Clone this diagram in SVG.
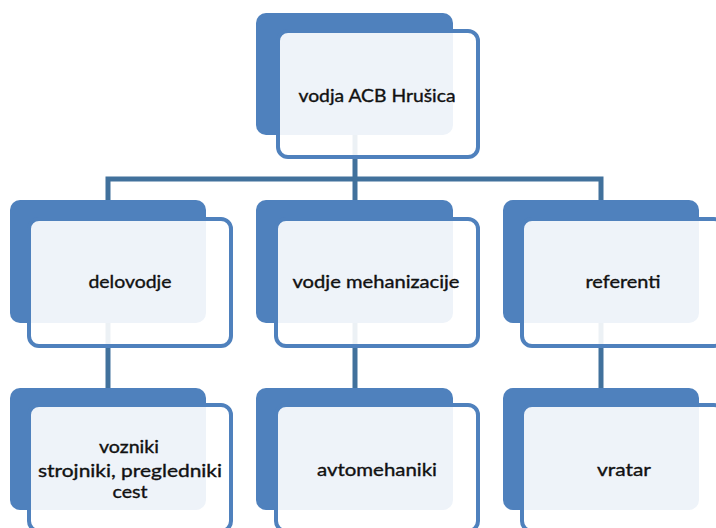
<svg xmlns="http://www.w3.org/2000/svg" width="716" height="528" viewBox="0 0 716 528">
  <style>
    .back { fill: #4F81BD; }
    .front { fill: #FFFFFF; fill-opacity: 0.9; stroke: #4F81BD; stroke-width: 4; }
    .link { fill: none; stroke: #41719C; stroke-width: 5; stroke-linejoin: miter; stroke-linecap: butt; }
    .label { font-family: Lato, "Liberation Sans", sans-serif; font-size: 17px; fill: #111111; stroke: #111111; stroke-width: 0.35; text-anchor: middle; }
  </style>
  <rect x="0" y="0" width="716" height="528" fill="#FFFFFF"/>

  <!-- connectors, drawn beneath the boxes -->
  <g id="connectors">
    <path class="link" d="M355 135 V179"/>
    <path class="link" d="M108 200 V179 H601 V200"/>
    <path class="link" d="M355 179 V200"/>
    <path class="link" d="M108 323 V388"/>
    <path class="link" d="M355 323 V388"/>
    <path class="link" d="M601 323 V388"/>
  </g>

  <g id="node-vodja">
    <rect class="back" x="256" y="13" width="197" height="122" rx="10"/>
    <rect class="front" x="278" y="31" width="200" height="126" rx="10"/>
    <text class="label" x="377" y="102" textLength="157" lengthAdjust="spacingAndGlyphs">vodja ACB Hrušica</text>
  </g>

  <g id="node-delovodje">
    <rect class="back" x="10" y="200" width="196" height="123" rx="10"/>
    <rect class="front" x="29" y="219" width="202" height="127" rx="10"/>
    <text class="label" x="130" y="288" textLength="83" lengthAdjust="spacingAndGlyphs">delovodje</text>
  </g>

  <g id="node-mehanizacija">
    <rect class="back" x="256" y="200" width="197" height="123" rx="10"/>
    <rect class="front" x="276" y="219" width="202" height="127" rx="10"/>
    <text class="label" x="376" y="288" textLength="167" lengthAdjust="spacingAndGlyphs">vodje mehanizacije</text>
  </g>

  <g id="node-referenti">
    <rect class="back" x="503" y="200" width="196" height="123" rx="10"/>
    <rect class="front" x="522" y="219" width="202" height="127" rx="10"/>
    <text class="label" x="623" y="288" textLength="75" lengthAdjust="spacingAndGlyphs">referenti</text>
  </g>

  <g id="node-vozniki">
    <rect class="back" x="10" y="388" width="196" height="122" rx="10"/>
    <rect class="front" x="29" y="405" width="202" height="126" rx="10"/>
    <text class="label" x="129" y="453" textLength="60" lengthAdjust="spacingAndGlyphs">vozniki</text>
    <text class="label" x="130" y="477" textLength="184" lengthAdjust="spacingAndGlyphs">strojniki, pregledniki</text>
    <text class="label" x="130" y="498" textLength="35" lengthAdjust="spacingAndGlyphs">cest</text>
  </g>

  <g id="node-avtomehaniki">
    <rect class="back" x="256" y="388" width="197" height="122" rx="10"/>
    <rect class="front" x="276" y="405" width="202" height="126" rx="10"/>
    <text class="label" x="377" y="476" textLength="120" lengthAdjust="spacingAndGlyphs">avtomehaniki</text>
  </g>

  <g id="node-vratar">
    <rect class="back" x="503" y="388" width="196" height="122" rx="10"/>
    <rect class="front" x="522" y="405" width="202" height="126" rx="10"/>
    <text class="label" x="624" y="476" textLength="54" lengthAdjust="spacingAndGlyphs">vratar</text>
  </g>
</svg>
